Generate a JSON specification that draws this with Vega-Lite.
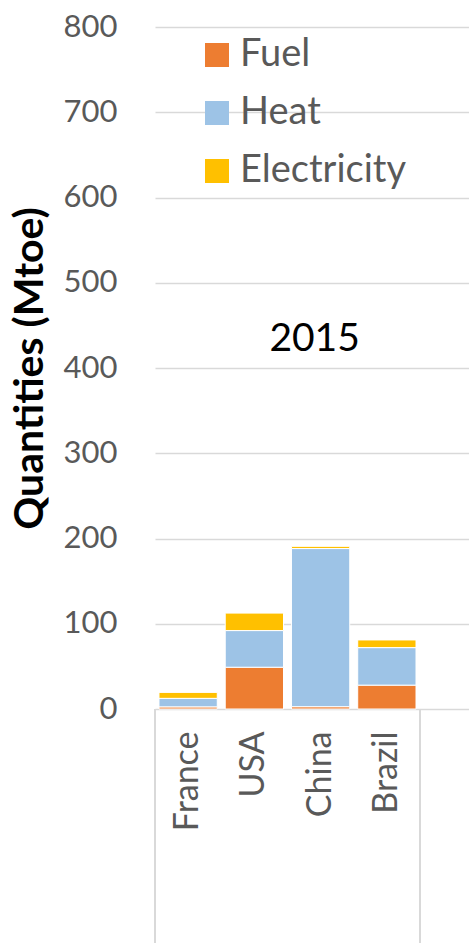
{
  "$schema": "https://vega.github.io/schema/vega-lite/v6.json",
  "autosize": {"type": "none"},
  "width": 314,
  "height": 682,
  "padding": {"left": 155, "top": 27, "right": 0, "bottom": 234},
  "background": "white",
  "config": {"view": {"stroke": null}, "font": "Lato"},
  "data": {"values": [
    {"country": "France", "type": "Fuel", "value": 2.5},
    {"country": "France", "type": "Heat", "value": 10},
    {"country": "France", "type": "Electricity", "value": 7},
    {"country": "USA", "type": "Fuel", "value": 49},
    {"country": "USA", "type": "Heat", "value": 43},
    {"country": "USA", "type": "Electricity", "value": 20.5},
    {"country": "China", "type": "Fuel", "value": 2.7},
    {"country": "China", "type": "Heat", "value": 185.5},
    {"country": "China", "type": "Electricity", "value": 2.6},
    {"country": "Brazil", "type": "Fuel", "value": 28},
    {"country": "Brazil", "type": "Heat", "value": 44},
    {"country": "Brazil", "type": "Electricity", "value": 9}
  ]},
  "layer": [
    {
      "transform": [{"calculate": "indexof(['Fuel','Heat','Electricity'], datum.type)", "as": "ord"}],
      "mark": {"type": "bar", "width": {"band": 0.88}, "stroke": "white", "strokeWidth": 1},
      "encoding": {
        "x": {
          "field": "country", "type": "nominal",
          "scale": {"domain": ["France", "USA", "China", "Brazil"], "range": [0, 314], "paddingInner": 0, "paddingOuter": 0.37, "align": 0},
          "axis": {"title": null, "domain": false, "ticks": false, "labelAngle": -90, "labelFontSize": 34, "labelColor": "#595959", "labelPadding": 22}
        },
        "y": {
          "field": "value", "type": "quantitative", "stack": "zero",
          "scale": {"domain": [0, 800], "nice": false},
          "axis": {"values": [0, 100, 200, 300, 400, 500, 600, 700, 800], "domain": false, "ticks": false, "labelPadding": 38, "labelFontSize": 31, "labelColor": "#595959", "gridColor": "#d9d9d9", "gridWidth": 1.5, "title": "Quantities (Mtoe)", "titleFontSize": 41, "titleFontWeight": "bold", "titleColor": "black", "titlePadding": 12}
        },
        "color": {
          "field": "type", "type": "nominal",
          "scale": {"domain": ["Fuel", "Heat", "Electricity"], "range": ["#ED7D31", "#9DC3E6", "#FFC000"]},
          "legend": {"orient": "none", "legendX": 43, "legendY": 9, "title": null, "symbolType": "square", "symbolSize": 576, "symbolStrokeWidth": 0, "labelFontSize": 38, "labelColor": "#595959", "labelLimit": 400, "rowPadding": 20, "labelOffset": 4, "padding": 0}
        },
        "order": {"field": "ord", "type": "quantitative"}
      }
    },
    {
      "data": {"values": [{"country": "France"}]},
      "mark": {"type": "rule", "color": "#d9d9d9", "strokeWidth": 2},
      "encoding": {
        "x": {"field": "country", "type": "nominal", "bandPosition": 0},
        "y": {"datum": 0},
        "y2": {"datum": -275}
      }
    },
    {
      "data": {"values": [{"country": "Brazil"}]},
      "mark": {"type": "rule", "color": "#d9d9d9", "strokeWidth": 2},
      "encoding": {
        "x": {"field": "country", "type": "nominal", "bandPosition": 1},
        "y": {"datum": 0},
        "y2": {"datum": -275}
      }
    },
    {
      "data": {"values": [{"country": "China", "label": "2015", "value": 434}]},
      "mark": {"type": "text", "fontSize": 39, "color": "black", "baseline": "middle", "align": "center", "dx": -6},
      "encoding": {
        "x": {"field": "country", "type": "nominal"},
        "y": {"field": "value", "type": "quantitative"},
        "text": {"field": "label"}
      }
    }
  ]
}
